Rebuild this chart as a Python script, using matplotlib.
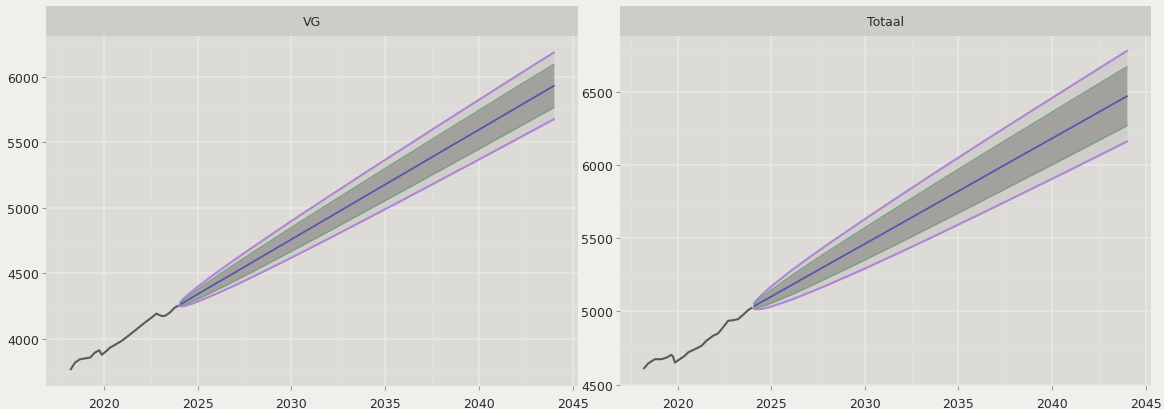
import matplotlib
matplotlib.use("Agg")
import matplotlib.pyplot as plt
from matplotlib.ticker import MultipleLocator

# ---- Data ----
panels = ["VG", "Totaal"]

vg_hist_year = [2018.23, 2018.46, 2018.72, 2019.26, 2019.52, 2019.75, 2019.88, 2020.14,
                2020.32, 2020.59, 2020.94, 2021.29, 2021.74, 2022.18, 2022.54, 2022.80,
                2023.07, 2023.25, 2023.51, 2023.78, 2023.95]
vg_hist_val = [3766, 3817, 3842, 3855, 3893, 3911, 3876, 3906,
               3931, 3952, 3982, 4020, 4071, 4122, 4160, 4191,
               4173, 4173, 4198, 4237, 4250]

tot_hist_year = [2018.20, 2018.41, 2018.77, 2019.13, 2019.40, 2019.66, 2019.75, 2019.84,
                 2020.11, 2020.37, 2020.55, 2020.91, 2021.27, 2021.53, 2021.89, 2022.15,
                 2022.42, 2022.69, 2022.96, 2023.22, 2023.49, 2023.76, 2023.94]
tot_hist_val = [4612, 4644, 4674, 4674, 4685, 4704, 4690, 4651,
                4674, 4697, 4720, 4742, 4765, 4800, 4834, 4850,
                4891, 4936, 4940, 4947, 4977, 5009, 5023]

fc_year = [2024.08, 2024.25, 2024.5, 2025, 2026, 2027, 2028, 2030, 2032,
           2034, 2036, 2038, 2040, 2042, 2044]

vg_mean = [4262, 4276, 4297, 4339, 4423, 4506, 4590, 4758, 4925, 5093, 5260, 5428, 5595, 5763, 5930]
vg_lo80 = [4251, 4258, 4271, 4302, 4371, 4442, 4516, 4667, 4820, 4976, 5132, 5290, 5447, 5606, 5765]
vg_hi80 = [4273, 4295, 4323, 4376, 4475, 4570, 4664, 4849, 5030, 5210, 5388, 5566, 5743, 5920, 6095]
vg_lo95 = [4246, 4248, 4257, 4282, 4342, 4407, 4476, 4618, 4764, 4913, 5063, 5215, 5367, 5521, 5675]
vg_hi95 = [4278, 4305, 4337, 4396, 4504, 4605, 4704, 4898, 5086, 5273, 5457, 5641, 5823, 6005, 6185]

tot_mean = [5036, 5048, 5066, 5102, 5174, 5246, 5318, 5461, 5605, 5749, 5893, 6037, 6180, 6324, 6468]
tot_lo80 = [5023, 5026, 5034, 5057, 5110, 5168, 5228, 5351, 5478, 5607, 5737, 5869, 6000, 6133, 6267]
tot_hi80 = [5049, 5071, 5098, 5147, 5238, 5324, 5408, 5571, 5732, 5891, 6049, 6205, 6360, 6515, 6669]
tot_lo95 = [5016, 5014, 5017, 5033, 5076, 5127, 5180, 5292, 5410, 5531, 5654, 5779, 5904, 6031, 6159]
tot_hi95 = [5056, 5083, 5115, 5171, 5272, 5366, 5456, 5630, 5800, 5967, 6132, 6295, 6456, 6617, 6777]

# ---- Styling ----
FIG_BG = "#f0efeb"
PANEL_BG = "#dcdbd8"
STRIP_BG = "#cdccc9"
GRID_MAJ = "#e9e8e5"
GRID_MIN = "#e2e1de"
TXT = "#2b2b2b"

fig = plt.figure(figsize=(11.64, 4.10), dpi=100, facecolor=FIG_BG)

W, H = 1164.0, 410.0
boxes = [(46, 578), (620, 1151)]
top_px, bot_px, strip_top_px = 37, 387, 7

series = [
    (vg_hist_year, vg_hist_val, vg_mean, vg_lo80, vg_hi80, vg_lo95, vg_hi95, (3638, 6311)),
    (tot_hist_year, tot_hist_val, tot_mean, tot_lo80, tot_hi80, tot_lo95, tot_hi95, (4491, 6879)),
]

for (x0, x1), name, (hy, hv, m, l80, h80, l95, h95, ylim) in zip(boxes, panels, series):
    ax = fig.add_axes([x0 / W, (H - bot_px) / H, (x1 - x0) / W, (bot_px - top_px) / H])
    ax.set_facecolor(PANEL_BG)
    for s in ax.spines.values():
        s.set_visible(False)

    ax.fill_between(fc_year, l95, h95, color="#cfcecb", lw=0, zorder=2)
    ax.fill_between(fc_year, l80, h80, color="#a2a19e", lw=0, zorder=3)
    ax.plot(fc_year, h95, color="#b084d6", lw=1.5, zorder=4)
    ax.plot(fc_year, l95, color="#b084d6", lw=1.5, zorder=4)
    ax.plot(fc_year, h80, color="#7a9e86", lw=1.0, zorder=5)
    ax.plot(fc_year, l80, color="#7a9e86", lw=1.0, zorder=5)
    ax.plot(fc_year, m, color="#5656ac", lw=1.3, zorder=6)
    ax.plot(hy, hv, color="#5a5a5a", lw=1.5, zorder=6)

    ax.set_xlim(2016.91, 2045.29)
    ax.set_ylim(*ylim)
    ax.xaxis.set_major_locator(MultipleLocator(5))
    ax.xaxis.set_minor_locator(MultipleLocator(2.5))
    ax.yaxis.set_major_locator(MultipleLocator(500))
    ax.yaxis.set_minor_locator(MultipleLocator(250))
    ax.grid(which="major", color=GRID_MAJ, lw=1.2, zorder=0)
    ax.grid(which="minor", color=GRID_MIN, lw=0.6, zorder=0)
    ax.set_axisbelow(True)
    ax.tick_params(which="major", length=3, width=0.8, color="#9a9a9a",
                   labelsize=9, labelcolor=TXT)
    ax.tick_params(axis="x", which="major", pad=5)
    ax.tick_params(axis="y", which="major", pad=2)
    ax.tick_params(which="minor", length=0)

    sax = fig.add_axes([x0 / W, (H - top_px) / H, (x1 - x0) / W, (top_px - strip_top_px) / H])
    sax.set_facecolor(STRIP_BG)
    sax.set_xticks([])
    sax.set_yticks([])
    for s in sax.spines.values():
        s.set_visible(False)
    sax.text(0.5, 0.5, name, ha="center", va="center", fontsize=9, color=TXT,
             transform=sax.transAxes)

fig.savefig("out.png", dpi=100, facecolor=FIG_BG)
